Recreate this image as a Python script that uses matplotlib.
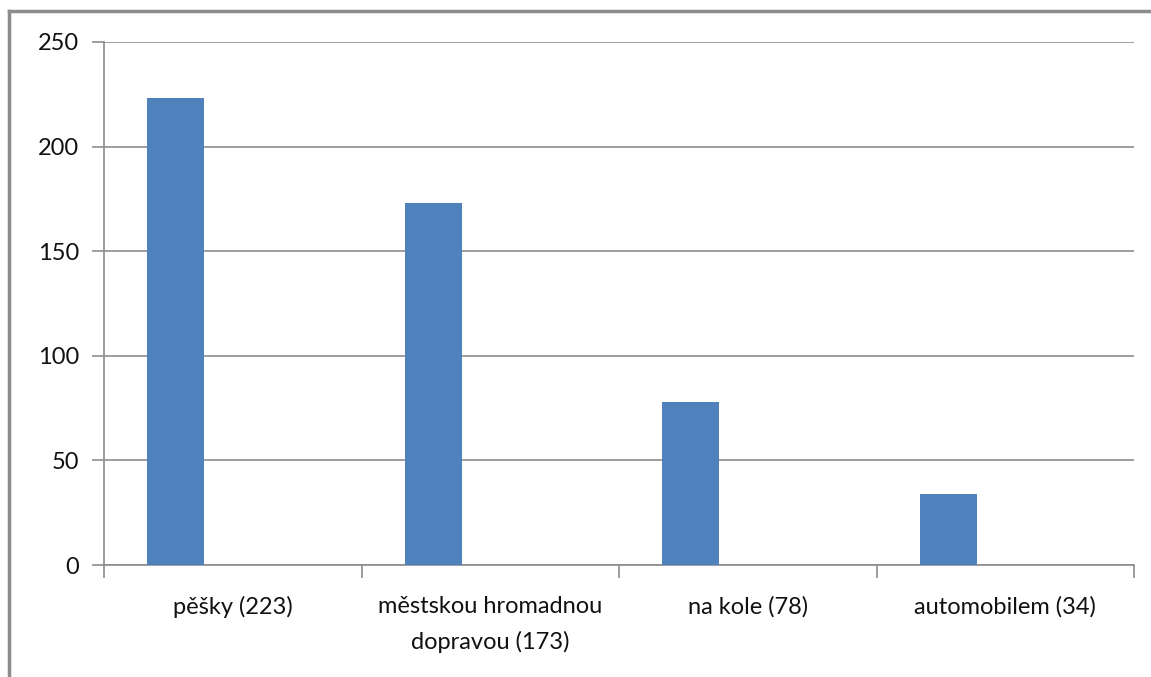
import matplotlib
matplotlib.use("Agg")
import matplotlib.pyplot as plt
from matplotlib.lines import Line2D
import numpy as np

# Travel mode counts
categories = ["pěšky (223)", "městskou hromadnou\ndopravou (173)", "na kole (78)", "automobilem (34)"]
values = [223, 173, 78, 34]
y_ticks = [0, 50, 100, 150, 200, 250]

W, H = 1151, 677
fig = plt.figure(figsize=(W / 100, H / 100), dpi=100)
plt.rcParams['font.family'] = ['Lato', 'DejaVu Sans']

# Outer chart frame: left and top edges only, running off the canvas
frame_kw = dict(transform=fig.transFigure, color="#8c8c8c", linewidth=2.5,
                solid_capstyle="projecting")
fig.lines.append(Line2D([9 / W, 9 / W], [-0.1, 1 - 11 / H], **frame_kw))
fig.lines.append(Line2D([9 / W, 1.1], [1 - 11 / H, 1 - 11 / H], **frame_kw))

ax = fig.add_axes([104 / W, 1 - 565 / H, (1134 - 104) / W, (565 - 42) / H])

n = len(categories)
x = np.arange(n)
bar_w = 57 / 257.5
offset = 43 / 257.5
ax.bar(x - 0.5 + offset, values, width=bar_w, align="edge",
       color="#4F81BD", zorder=3)

ax.set_xlim(-0.5, n - 0.5)
ax.set_ylim(0, 250)
ax.set_yticks(y_ticks)
ax.yaxis.grid(True, color="#8c8c8c", linewidth=1.2, zorder=0)
ax.set_axisbelow(True)

for s in ["top", "right"]:
    ax.spines[s].set_visible(False)
for s in ["left", "bottom"]:
    ax.spines[s].set_color("#8c8c8c")
    ax.spines[s].set_linewidth(1.2)

# category boundary ticks
ax.set_xticks(np.arange(n + 1) - 0.5)
ax.set_xticklabels([])
ax.tick_params(axis="x", length=9, width=1.2, color="#8c8c8c", direction="out")
ax.tick_params(axis="y", length=9, width=1.2, color="#8c8c8c", direction="out",
               labelsize=17, pad=9, labelcolor="#111111")

for i, lab in enumerate(categories):
    ax.text(i, -15, lab, ha="center", va="top", fontsize=17, color="#111111",
            linespacing=1.72, transform=ax.transData)

fig.savefig("out.png", dpi=100, facecolor="white")
